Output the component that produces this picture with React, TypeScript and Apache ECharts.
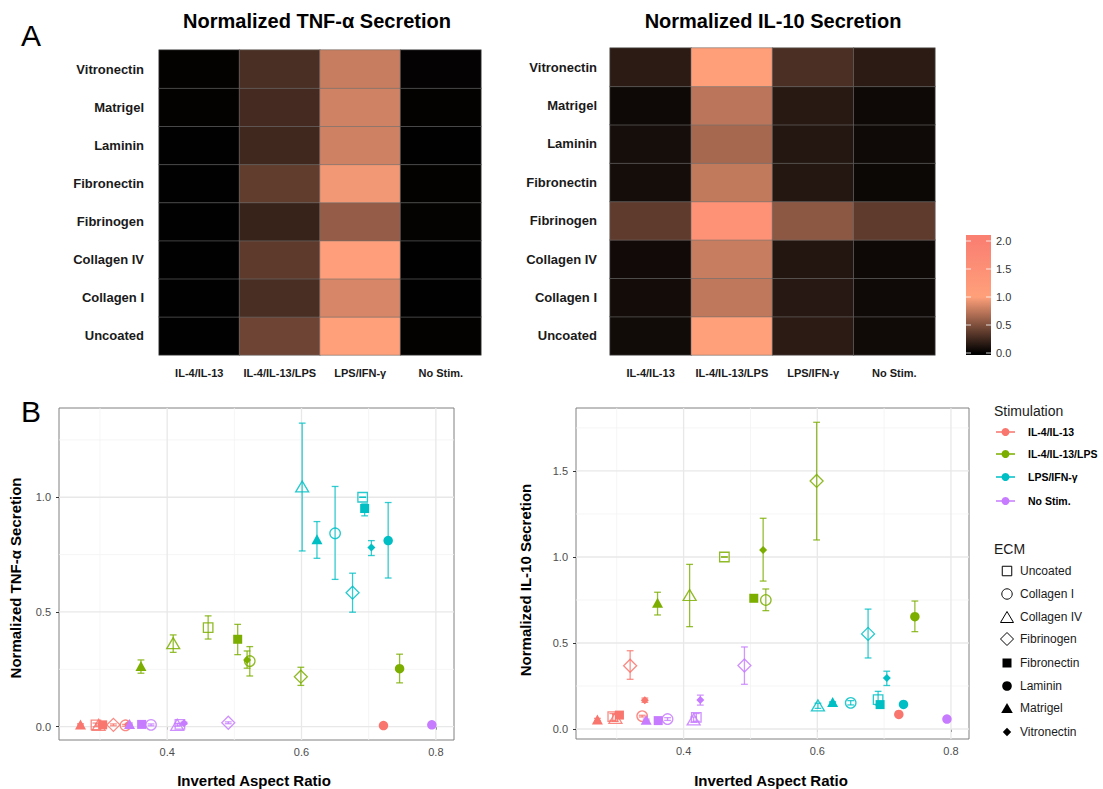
import React, { useEffect, useRef } from 'react';
import * as echarts from 'echarts';

// ---------- DATA ----------
const stims = ['IL-4/IL-13', 'IL-4/IL-13/LPS', 'LPS/IFN-γ', 'No Stim.'];
const ecms = ['Uncoated', 'Collagen I', 'Collagen IV', 'Fibrinogen', 'Fibronectin', 'Laminin', 'Matrigel', 'Vitronectin'];

// rows: stimulation (order of stims); columns: ECM (order of ecms)
const aspectRatio = [
  [0.294, 0.338, 0.298, 0.320, 0.304, 0.722, 0.271, 0.342],
  [0.461, 0.523, 0.409, 0.599, 0.505, 0.746, 0.361, 0.519],
  [0.691, 0.650, 0.601, 0.676, 0.694, 0.729, 0.623, 0.704],
  [0.419, 0.376, 0.415, 0.491, 0.362, 0.794, 0.344, 0.425],
];

const tnfMean = [
  [0.008, 0.006, 0.008, 0.008, 0.008, 0.005, 0.010, 0.010],
  [0.432, 0.286, 0.364, 0.218, 0.381, 0.253, 0.265, 0.291],
  [1.000, 0.843, 1.047, 0.584, 0.951, 0.811, 0.817, 0.781],
  [0.010, 0.008, 0.008, 0.017, 0.010, 0.008, 0.012, 0.015],
];
const tnfLow = [
  [0.000, 0.002, 0.004, 0.004, 0.004, 0.003, 0.007, 0.005],
  [0.382, 0.221, 0.324, 0.180, 0.314, 0.191, 0.233, 0.255],
  [1.000, 0.642, 0.766, 0.499, 0.919, 0.648, 0.734, 0.746],
  [0.006, 0.004, 0.002, 0.013, 0.006, 0.005, 0.008, 0.010],
];
const tnfHigh = [
  [0.016, 0.010, 0.012, 0.012, 0.012, 0.007, 0.013, 0.015],
  [0.483, 0.349, 0.400, 0.259, 0.446, 0.316, 0.291, 0.330],
  [1.000, 1.047, 1.323, 0.669, 0.971, 0.977, 0.894, 0.811],
  [0.014, 0.012, 0.014, 0.021, 0.014, 0.011, 0.016, 0.020],
];

const il10Mean = [
  [0.072, 0.075, 0.065, 0.368, 0.081, 0.085, 0.056, 0.167],
  [1.000, 0.750, 0.779, 1.442, 0.760, 0.653, 0.734, 1.041],
  [0.171, 0.152, 0.137, 0.553, 0.142, 0.143, 0.157, 0.296],
  [0.068, 0.058, 0.056, 0.369, 0.049, 0.058, 0.054, 0.168],
];
const il10Low = [
  [0.050, 0.070, 0.045, 0.289, 0.075, 0.085, 0.050, 0.155],
  [1.000, 0.688, 0.595, 1.099, 0.760, 0.566, 0.663, 0.860],
  [0.140, 0.140, 0.120, 0.413, 0.135, 0.143, 0.157, 0.253],
  [0.045, 0.050, 0.040, 0.260, 0.049, 0.058, 0.050, 0.139],
];
const il10High = [
  [0.090, 0.080, 0.085, 0.455, 0.087, 0.085, 0.062, 0.180],
  [1.000, 0.814, 0.957, 1.783, 0.760, 0.744, 0.795, 1.225],
  [0.219, 0.165, 0.150, 0.697, 0.150, 0.143, 0.157, 0.336],
  [0.090, 0.066, 0.070, 0.477, 0.049, 0.058, 0.058, 0.197],
];

const xMajorTicks = [0.4, 0.6, 0.8];
const xMinorTicks = [0.3, 0.5, 0.7];
const tnfMajorTicks = [0, 0.5, 1.0];
const tnfMinorTicks = [0.25, 0.75, 1.25];
const il10MajorTicks = [0, 0.5, 1.0, 1.5];
const il10MinorTicks = [0.25, 0.75, 1.25, 1.75];
const colorbarTicks = [0, 0.5, 1.0, 1.5, 2.0];
const colorStopValues = [0, 1, 2];

// ---------- STYLE ----------
const FONT = '"Liberation Sans", Arial, Helvetica, sans-serif';
const stimColors = ['#F8766D', '#7CAE00', '#00BFC4', '#C77CFF'];
const heatColors = ['#000000', '#FFA07A', '#FA8072'];
const ecmSymbols = ['rect', 'circle', 'triangle', 'diamond', 'rect', 'circle', 'triangle', 'diamond'];
const ecmFilled = [false, false, false, false, true, true, true, true];
const ecmSizes = [[9.5, 9.5], [10.5, 10.5], [13, 11], [13, 13], [9, 9], [9.5, 9.5], [11, 10], [8, 8]];

function rgba(hex: string, a: number) {
  const h = hex.replace('#', '');
  const r = parseInt(h.slice(0, 2), 16), g = parseInt(h.slice(2, 4), 16), b = parseInt(h.slice(4, 6), 16);
  return `rgba(${r},${g},${b},${a})`;
}

const X_MIN = 0.239, X_MAX = 0.827;
const TNF_MIN = -0.058, TNF_MAX = 1.389;
const IL10_MIN = -0.058, IL10_MAX = 1.866;

function buildOption() {
  const heatData = (means: number[][]) => {
    const out: any[] = [];
    stims.forEach((s, si) => ecms.forEach((e, ei) => out.push([s, e, means[si][ei]])));
    return out;
  };

  const heatX = (gi: number) => ({
    type: 'category', gridIndex: gi, data: stims,
    axisLine: { show: false }, axisTick: { show: false }, splitLine: { show: false },
    axisLabel: { fontFamily: FONT, fontWeight: 'bold', fontSize: 11, color: '#1a1a1a', margin: 12, interval: 0 },
  });
  const heatY = (gi: number, margin: number) => ({
    type: 'category', gridIndex: gi, data: ecms,
    axisLine: { show: false }, axisTick: { show: false }, splitLine: { show: false },
    axisLabel: { fontFamily: FONT, fontWeight: 'bold', fontSize: 13, color: '#1a1a1a', margin, interval: 0 },
  });
  const valAxis = (gi: number, min: number, max: number, ticks: number[], isX: boolean) => ({
    type: 'value', gridIndex: gi, min, max,
    axisLine: { show: false },
    axisTick: { show: true, length: 3, lineStyle: { color: '#333333', width: 1 }, customValues: ticks },
    axisLabel: {
      customValues: ticks, formatter: (v: number) => v.toFixed(1),
      fontFamily: FONT, fontSize: 11, color: '#4d4d4d', margin: isX ? 6 : 8,
    },
    splitLine: { show: false },
  });

  const gridSeries = (gi: number, xMin: number, yMin: number, yMajor: number[], yMinor: number[]) => {
    const data: number[][] = [];
    xMinorTicks.forEach((v) => data.push([v, 0, 0]));
    yMinor.forEach((v) => data.push([v, 1, 0]));
    xMajorTicks.forEach((v) => data.push([v, 0, 1]));
    yMajor.forEach((v) => data.push([v, 1, 1]));
    return {
      type: 'custom', xAxisIndex: gi, yAxisIndex: gi, z: 1, silent: true, data,
      renderItem: (params: any, api: any) => {
        const cs = params.coordSys;
        const v = api.value(0);
        const isY = api.value(1) === 1;
        const major = api.value(2) === 1;
        const style = { stroke: major ? '#e8e8e8' : '#f3f3f3', lineWidth: major ? 1.3 : 0.8, fill: 'none' };
        if (isY) {
          const p = api.coord([xMin, v]);
          return { type: 'line', shape: { x1: cs.x, y1: p[1], x2: cs.x + cs.width, y2: p[1] }, style };
        }
        const p = api.coord([v, yMin]);
        return { type: 'line', shape: { x1: p[0], y1: cs.y, x2: p[0], y2: cs.y + cs.height }, style };
      },
    };
  };

  const errSeries = (gi: number, lo: number[][], hi: number[][], si: number) => ({
    type: 'custom', xAxisIndex: gi, yAxisIndex: gi, z: 3, silent: true,
    data: ecms.map((_, ei) => [aspectRatio[si][ei], lo[si][ei], hi[si][ei]]),
    encode: { x: 0, y: [1, 2] },
    renderItem: (params: any, api: any) => {
      const x = api.value(0);
      const top = api.coord([x, api.value(2)]);
      const bot = api.coord([x, api.value(1)]);
      const w = 3.4;
      const style = { stroke: rgba(stimColors[si], 0.8), lineWidth: 1.3, fill: 'none' };
      return {
        type: 'group',
        children: [
          { type: 'line', shape: { x1: top[0], y1: top[1], x2: bot[0], y2: bot[1] }, style },
          { type: 'line', shape: { x1: top[0] - w, y1: top[1], x2: top[0] + w, y2: top[1] }, style },
          { type: 'line', shape: { x1: bot[0] - w, y1: bot[1], x2: bot[0] + w, y2: bot[1] }, style },
        ],
      };
    },
  });

  const pointSeries = (gi: number, mean: number[][], si: number) => ({
    type: 'scatter', xAxisIndex: gi, yAxisIndex: gi, z: 4, silent: true,
    data: ecms.map((_, ei) => ({
      value: [aspectRatio[si][ei], mean[si][ei]],
      symbol: ecmSymbols[ei],
      symbolSize: ecmSizes[ei],
      itemStyle: ecmFilled[ei]
        ? { color: stimColors[si], borderWidth: 0, opacity: 1 }
        : { color: 'rgba(255,255,255,0)', borderColor: rgba(stimColors[si], 0.85), borderWidth: 1.3, opacity: 1 },
    })),
  });

  const series: any[] = [
    {
      type: 'heatmap', xAxisIndex: 0, yAxisIndex: 0, data: heatData(tnfMean), silent: true,
      itemStyle: { borderColor: '#6e6e6e', borderWidth: 0.6 },
    },
    {
      type: 'heatmap', xAxisIndex: 1, yAxisIndex: 1, data: heatData(il10Mean), silent: true,
      itemStyle: { borderColor: '#6e6e6e', borderWidth: 0.6 },
    },
    gridSeries(2, X_MIN, TNF_MIN, tnfMajorTicks, tnfMinorTicks),
    gridSeries(3, X_MIN, IL10_MIN, il10MajorTicks, il10MinorTicks),
  ];
  stims.forEach((_, si) => {
    series.push(errSeries(2, tnfLow, tnfHigh, si));
    series.push(errSeries(3, il10Low, il10High, si));
  });
  stims.forEach((_, si) => {
    series.push(pointSeries(2, tnfMean, si));
    series.push(pointSeries(3, il10Mean, si));
  });

  // ---------- graphic: titles, labels, colorbar, legends ----------
  const txt = (x: number, y: number, text: string, font: string, opts: any = {}) => ({
    type: 'text', x, y, rotation: opts.rotation || 0, silent: true,
    style: {
      text, font, fill: opts.fill || '#1a1a1a',
      textAlign: opts.align || 'center', textVerticalAlign: 'middle',
    },
  });

  const graphics: any[] = [
    txt(31, 35, 'A', `30px ${FONT}`, { fill: '#000' }),
    txt(31, 411, 'B', `30px ${FONT}`, { fill: '#000' }),
    txt(317, 21, 'Normalized TNF-α Secretion', `bold 20px ${FONT}`, { fill: '#000' }),
    txt(773, 21, 'Normalized IL-10 Secretion', `bold 20px ${FONT}`, { fill: '#000' }),
    txt(15, 578, 'Normalized TNF-α Secretion', `bold 15px ${FONT}`, { rotation: Math.PI / 2, fill: '#000' }),
    txt(525, 580, 'Normalized IL-10 Secretion', `bold 15px ${FONT}`, { rotation: Math.PI / 2, fill: '#000' }),
    txt(254, 780, 'Inverted Aspect Ratio', `bold 15px ${FONT}`, { fill: '#000' }),
    txt(771, 780, 'Inverted Aspect Ratio', `bold 15px ${FONT}`, { fill: '#000' }),
  ];

  // colorbar
  const cbX = 966, cbW = 25, cbTop = 235, cbBottom = 355, cbZero = 353, cbPerUnit = 56;
  const off = (v: number) => (cbZero - cbPerUnit * v - cbTop) / (cbBottom - cbTop);
  const stops: any[] = [{ offset: 0, color: heatColors[heatColors.length - 1] }];
  for (let i = colorStopValues.length - 1; i >= 0; i--) {
    stops.push({ offset: off(colorStopValues[i]), color: heatColors[i] });
  }
  stops.push({ offset: 1, color: heatColors[0] });
  graphics.push({
    type: 'rect', silent: true,
    shape: { x: cbX, y: cbTop, width: cbW, height: cbBottom - cbTop },
    style: { fill: new echarts.graphic.LinearGradient(0, 0, 0, 1, stops) },
  });
  colorbarTicks.forEach((v) => {
    const y = cbZero - cbPerUnit * v;
    graphics.push({ type: 'line', silent: true, shape: { x1: cbX, y1: y, x2: cbX + 5, y2: y }, style: { stroke: 'rgba(255,255,255,0.8)', lineWidth: 1 } });
    graphics.push({ type: 'line', silent: true, shape: { x1: cbX + cbW - 5, y1: y, x2: cbX + cbW, y2: y }, style: { stroke: 'rgba(255,255,255,0.8)', lineWidth: 1 } });
    graphics.push(txt(996, y, v.toFixed(1), `11px ${FONT}`, { align: 'left', fill: '#333' }));
  });

  // Stimulation legend
  graphics.push(txt(994, 411, 'Stimulation', `14px ${FONT}`, { align: 'left', fill: '#1a1a1a' }));
  const stimY = [432, 454, 477, 501];
  stims.forEach((s, si) => {
    const y = stimY[si];
    graphics.push({ type: 'line', silent: true, shape: { x1: 996, y1: y, x2: 1015, y2: y }, style: { stroke: rgba(stimColors[si], 0.85), lineWidth: 1.8 } });
    graphics.push({ type: 'circle', silent: true, shape: { cx: 1005.5, cy: y, r: 4 }, style: { fill: stimColors[si] } });
    graphics.push(txt(1028, y, s, `bold 10.5px ${FONT}`, { align: 'left', fill: '#000' }));
  });

  // ECM legend
  graphics.push(txt(994, 549, 'ECM', `14px ${FONT}`, { align: 'left', fill: '#1a1a1a' }));
  const ecmY = [571, 594, 617, 639, 663, 686, 708, 732];
  ecms.forEach((e, ei) => {
    const cx = 1007, cy = ecmY[ei];
    const filled = ecmFilled[ei];
    const style = filled ? { fill: '#000', stroke: 'none' } : { fill: 'none', stroke: '#000', lineWidth: 1 };
    const sym = ecmSymbols[ei];
    if (sym === 'rect') {
      const s = filled ? 9 : 9.5;
      graphics.push({ type: 'rect', silent: true, shape: { x: cx - s / 2, y: cy - s / 2, width: s, height: s }, style });
    } else if (sym === 'circle') {
      graphics.push({ type: 'circle', silent: true, shape: { cx, cy, r: filled ? 4.8 : 5.2 }, style });
    } else if (sym === 'triangle') {
      const w = filled ? 5.8 : 6.5, h = filled ? 5 : 5.5;
      graphics.push({ type: 'polygon', silent: true, shape: { points: [[cx, cy - h], [cx + w, cy + h], [cx - w, cy + h]] }, style });
    } else {
      const r = filled ? 4.2 : 6.5;
      graphics.push({ type: 'polygon', silent: true, shape: { points: [[cx, cy - r], [cx + r, cy], [cx, cy + r], [cx - r, cy]] }, style });
    }
    graphics.push(txt(1020, cy, e, `12px ${FONT}`, { align: 'left', fill: '#1a1a1a' }));
  });

  return {
    animation: false,
    backgroundColor: '#ffffff',
    textStyle: { fontFamily: FONT },
    grid: [
      { left: 159, top: 50, width: 322, height: 305, show: false },
      { left: 610, top: 48, width: 325, height: 307, show: false },
      { left: 59, top: 408, width: 395, height: 332, show: true, borderColor: '#808080', borderWidth: 1, backgroundColor: 'transparent' },
      { left: 576, top: 408, width: 393, height: 331, show: true, borderColor: '#808080', borderWidth: 1, backgroundColor: 'transparent' },
    ],
    xAxis: [
      heatX(0),
      heatX(1),
      valAxis(2, X_MIN, X_MAX, xMajorTicks, true),
      valAxis(3, X_MIN, X_MAX, xMajorTicks, true),
    ],
    yAxis: [
      heatY(0, 15),
      heatY(1, 13),
      valAxis(2, TNF_MIN, TNF_MAX, tnfMajorTicks, false),
      valAxis(3, IL10_MIN, IL10_MAX, il10MajorTicks, false),
    ],
    visualMap: {
      type: 'continuous', show: false, min: 0, max: 2, seriesIndex: [0, 1], dimension: 2,
      inRange: { color: heatColors },
    },
    series,
    graphic: graphics,
  };
}

export default function App() {
  const ref = useRef<HTMLDivElement>(null);
  useEffect(() => {
    if (!ref.current) return;
    const chart = echarts.init(ref.current, null, { renderer: 'svg' });
    chart.setOption(buildOption() as any);
    return () => chart.dispose();
  }, []);
  return (
    <div
      ref={ref}
      style={{ position: 'fixed', left: 0, top: 0, width: 1103, height: 789, background: '#fff' }}
    />
  );
}
